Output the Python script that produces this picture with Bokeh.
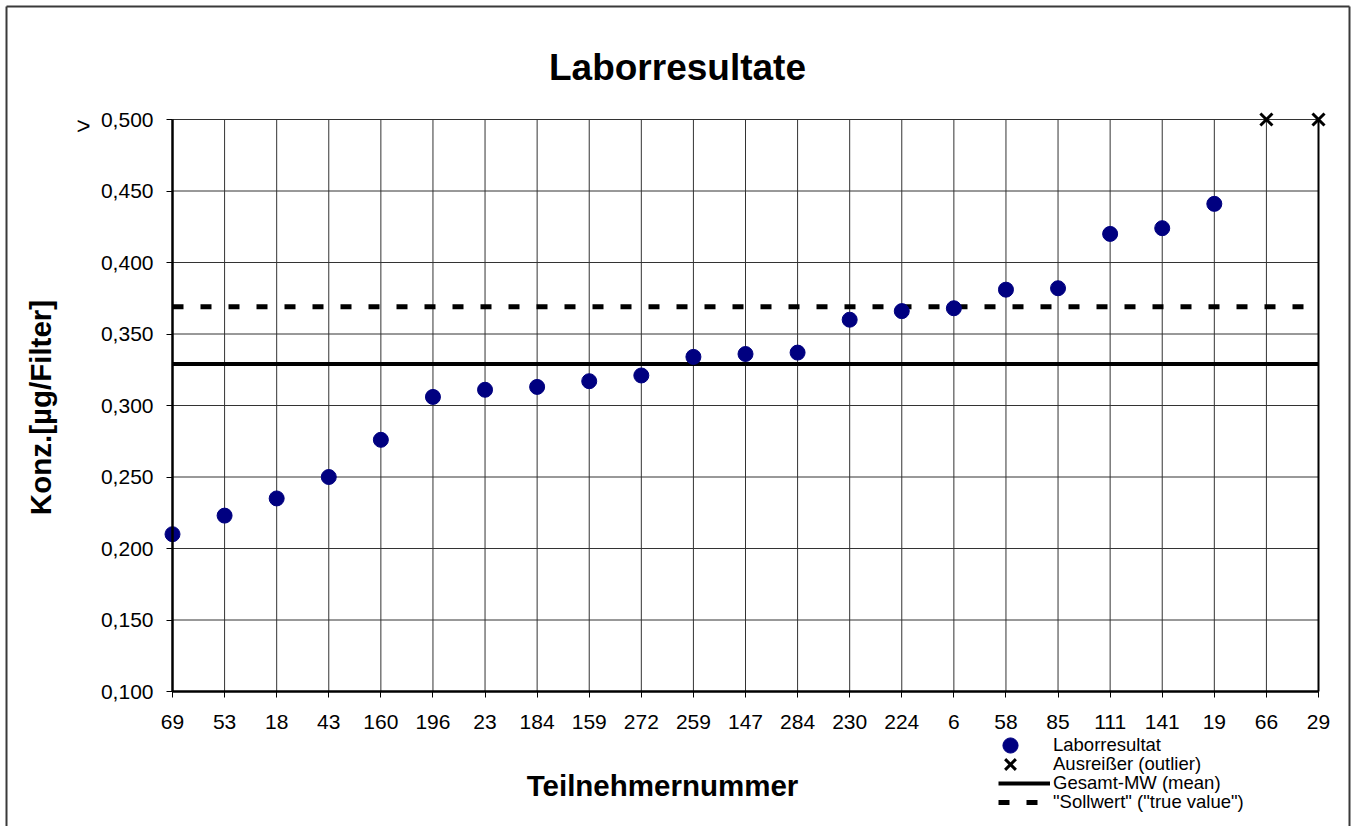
import math
from bokeh.plotting import figure
from bokeh.models import Range1d, FixedTicker, Label, Legend, LegendItem
from bokeh.embed import file_html
from bokeh.resources import INLINE

# ---------------- data ----------------
categories = ["69", "53", "18", "43", "160", "196", "23", "184", "159", "272", "259",
              "147", "284", "230", "224", "6", "58", "85", "111", "141", "19", "66", "29"]
result_categories = categories[:21]
results = [0.210, 0.223, 0.235, 0.250, 0.276, 0.306, 0.311, 0.313, 0.317, 0.321, 0.334,
           0.336, 0.337, 0.360, 0.366, 0.368, 0.381, 0.382, 0.420, 0.424, 0.441]
outlier_categories = ["66", "29"]
outlier_display = [0.500, 0.500]          # shown as "> 0,500"
mean_value = 0.329                        # Gesamt-MW
true_value = 0.369                        # Sollwert
y_ticks = [0.100, 0.150, 0.200, 0.250, 0.300, 0.350, 0.400, 0.450, 0.500]
y_tick_labels = ["0,100", "0,150", "0,200", "0,250", "0,300", "0,350", "0,400", "0,450", "0,500"]
legend_labels = ["Laborresultat", "Ausreißer (outlier)", "Gesamt-MW (mean)",
                 "\"Sollwert\" (\"true value\")"]
title_text = "Laborresultate"
x_title = "Teilnehmernummer"
y_title = "Konz.[µg/Filter]"

# ---------------- layout (page pixels) ----------------
FONT = "Liberation Sans"
W, H = 1353, 826                 # canvas size
OX, OY = 0, 0                    # canvas origin on the page
PLOT_L, PLOT_R = 172.0, 1318.0   # first / last category
PLOT_B, PLOT_T = 691.0, 119.0    # lowest / highest y tick

n = len(categories)
idx = list(range(n))
res_x = [categories.index(c) for c in result_categories]
out_x = [categories.index(c) for c in outlier_categories]
first, last = idx[0], idx[-1]
ymin, ymax = y_ticks[0], y_ticks[-1]

ux = (PLOT_R - PLOT_L) / (last - first)      # px per category
uy = (PLOT_B - PLOT_T) / (ymax - ymin)       # px per unit


def px2x(px):
    return first + (px - PLOT_L) / ux


def py2y(py):
    return ymin + (PLOT_B - py) / uy


p = figure(width=W, height=H, output_backend="svg", toolbar_location=None,
           x_range=Range1d(px2x(OX), px2x(OX + W)), y_range=Range1d(py2y(OY + H), py2y(OY)),
           min_border_left=0, min_border_right=0, min_border_top=0, min_border_bottom=0)
p.title.visible = False
p.outline_line_color = None
p.background_fill_color = "white"
p.border_fill_color = "white"
p.xgrid.visible = False
p.ygrid.visible = False

# outer chart border (left, top, right)
bx0, bx1, by, byb = px2x(6), px2x(1349), py2y(6), py2y(OY + H + 2)
p.segment(x0=[bx0, bx0, bx1], y0=[byb, by, by], x1=[bx0, bx1, bx1], y1=[by, by, byb],
          line_color="#3a3a3a", line_width=2)

# grid lines
p.segment(x0=idx, y0=[ymin] * n, x1=idx, y1=[ymax] * n, line_color="#333333", line_width=1)
p.segment(x0=[first] * len(y_ticks), y0=y_ticks, x1=[last] * len(y_ticks), y1=y_ticks,
          line_color="#333333", line_width=1)
p.segment(x0=[last], y0=[ymin], x1=[last], y1=[ymax], line_color="black", line_width=2)

# axes (drawn at fixed locations inside the canvas)
xa = p.xaxis[0]
xa.fixed_location = ymin
xa.ticker = FixedTicker(ticks=idx)
xa.major_label_overrides = {i: c for i, c in zip(idx, categories)}
xa.bounds = (first, last)
xa.axis_line_width = 2.5
xa.axis_line_color = "black"
xa.major_tick_out = 6
xa.major_tick_in = 0
xa.minor_tick_out = 0
xa.minor_tick_in = 0
xa.major_label_text_font = FONT
xa.major_label_text_font_size = "21px"
xa.major_label_text_color = "black"
xa.major_label_standoff = 17

ya = p.yaxis[0]
ya.fixed_location = first
ya.ticker = FixedTicker(ticks=y_ticks)
ya.major_label_overrides = {t: l for t, l in zip(y_ticks, y_tick_labels)}
ya.bounds = (ymin, ymax)
ya.axis_line_width = 2.5
ya.axis_line_color = "black"
ya.major_tick_out = 6
ya.major_tick_in = 0
ya.minor_tick_out = 0
ya.minor_tick_in = 0
ya.major_label_text_font = FONT
ya.major_label_text_font_size = "21px"
ya.major_label_text_color = "black"
ya.major_label_standoff = 13

# reference lines
mean_r = p.line(x=[first, last], y=[mean_value, mean_value], line_color="black", line_width=4)
true_r = p.line(x=[first, last], y=[true_value, true_value], line_color="black", line_width=5,
                line_dash="11 17")

# points
dots = p.scatter(x=res_x, y=results, size=15, fill_color="#000080", line_color="#000080")
outl = p.scatter(x=out_x, y=outlier_display, marker="x", size=17, line_width=3, line_color="black")

# legend: one single-item legend per row (rows 19px apart, 38px tall key boxes)
ROW = 38
LABEL_X = 1053
row_centers = [745, 764, 783, 802]
key_lefts = [991, 991, 998, 998]
key_widths = [38, 38, 52, 52]
for label, rend, cy, kx, kw in zip(legend_labels, [dots, outl, mean_r, true_r],
                                   row_centers, key_lefts, key_widths):
    lg = Legend(items=[LegendItem(label=label, renderers=[rend])], orientation="vertical")
    lg.border_line_color = None
    lg.background_fill_alpha = 0
    lg.padding = 0
    lg.margin = 0
    lg.spacing = 0
    lg.glyph_width = kw
    lg.glyph_height = ROW
    lg.label_height = ROW
    lg.label_standoff = LABEL_X - kx - kw
    lg.label_text_font = FONT
    lg.label_text_font_size = "18.5px"
    lg.label_text_color = "black"
    lg.location = (kx - OX, OY + H - (cy + ROW / 2))
    p.add_layout(lg)

# texts
p.add_layout(Label(x=px2x(677), y=py2y(67), text=title_text, text_color="black",
                   text_font=FONT, text_font_size="37px", text_font_style="bold",
                   text_align="center", text_baseline="middle"))
p.add_layout(Label(x=px2x(662), y=py2y(785), text=x_title, text_color="black",
                   text_font=FONT, text_font_size="29.5px", text_font_style="bold",
                   text_align="center", text_baseline="middle"))
p.add_layout(Label(x=px2x(40), y=py2y(407), text=y_title, text_color="black",
                   text_font=FONT, text_font_size="29.5px", text_font_style="bold", angle=math.pi / 2,
                   text_align="center", text_baseline="middle"))
p.add_layout(Label(x=px2x(83), y=py2y(125), text=">", text_color="black",
                   text_font=FONT, text_font_size="24px",
                   text_align="center", text_baseline="middle"))

open("out.html", "w").write(file_html(p, INLINE))
